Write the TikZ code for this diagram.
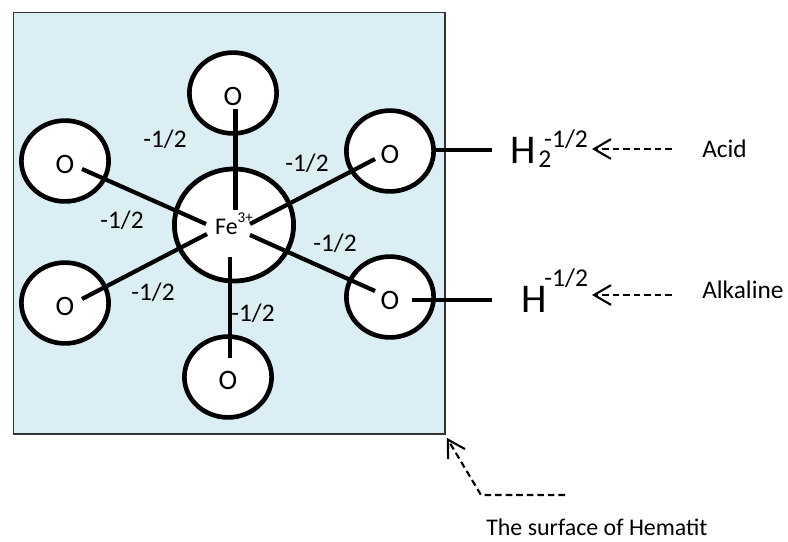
\documentclass[tikz,border=0pt]{standalone}
\usepackage{fontspec}
\setmainfont{Carlito}
\usetikzlibrary{arrows.meta,calc,shapes.geometric}
\definecolor{surfblue}{HTML}{DAEEF3}
\tikzset{
  bond/.style={line width=3pt},
  hint/.style={-{Straight Barb[length=12pt,width=14pt]}, line width=1.5pt, dash pattern=on 4.7pt off 2.8pt},
  oxy/.style={ellipse, draw, line width=3.3pt, fill=white, inner sep=0pt, minimum width=2.18cm, minimum height=2.02cm, font=\fontsize{20}{22}\selectfont, text height=18pt, text depth=0pt},
  charge/.style={inner sep=0pt, font=\fontsize{18}{20}\selectfont},
  ion/.style={inner sep=0pt, anchor=base west, font=\fontsize{29}{31}\selectfont}
}
\newcommand{\smalltxt}[1]{{\fontsize{18.2}{20}\selectfont #1}}

\begin{document}
\begin{tikzpicture}[x=0.025cm, y=-0.025cm]
    \useasboundingbox (0,0) rectangle (788,541);
    \node[draw=black!80, line width=1.1pt, fill=surfblue, minimum width=10.79cm, minimum height=10.54cm, inner sep=0pt] (surf) at (229.2,223.2) {};
    \node[oxy] (ot) at (233,93) {O};
    \node[oxy] (ort) at (390,151) {O};
    \node[oxy] (olt) at (65,161) {O};
    \node[oxy] (olb) at (65,303) {O};
    \node[oxy] (ob) at (228,377) {O};
    \node[oxy] (orb) at (390,297) {O};
    \node[ellipse, draw, line width=3.4pt, fill=white, inner sep=0pt, minimum width=2.98cm, minimum height=2.8cm, text height=12.8pt, text depth=0pt, font=\fontsize{17}{19}\selectfont] (fe) at (234,225) {Fe\raisebox{8.5pt}{\fontsize{10.7}{12}\selectfont 3+}};
    \draw[bond] ($(fe)+(1.5,-15)$) -- ($(ot)+(2.5,16)$);
    \draw[bond] ($(fe)+(-28,-1)$) -- ($(olt)+(17,8)$);
    \draw[bond] ($(fe)+(16,-1)$) -- ($(ort)+(-15,8)$);
    \draw[bond] ($(fe)+(16,10)$) -- ($(orb)+(-15,-6)$);
    \draw[bond] ($(fe)+(-27,9)$) -- ($(olb)+(17,-4)$);
    \draw[bond] ($(fe)+(-4,32)$) -- ($(ob)+(2,-19)$);
    \node[charge] (qa) at (165,139) {-1/2};
    \node[charge] (qb) at (307,163) {-1/2};
    \node[charge] (qc) at (122,220) {-1/2};
    \node[charge] (qd) at (335,243) {-1/2};
    \node[charge] (qe) at (153,292) {-1/2};
    \node[charge] (qf) at (253,313) {-1/2};
    \node[ion] (ha) at (510.5,163) {H\rlap{\hspace{1.5pt}\raisebox{-3.5pt}{\smalltxt{2}}}\raisebox{10.7pt}{\hspace{5.7pt}\smalltxt{-1/2}}};
    \node[ion] (hb) at (521.5,312) {H\raisebox{17.8pt}{\hspace{-2pt}\smalltxt{-1/2}}};
    \coordinate (ea) at (492,150);
    \coordinate (eb) at (492,300);
    \draw[bond] (ort.east |- ea) -- (ea);
    \draw[bond] ($(orb)+(22,3)$) -- (eb);
    \node[charge, anchor=west] (acid) at (702,149) {Acid};
    \node[charge, anchor=west] (alk) at (702,290) {Alkaline};
    \coordinate (ta) at (592,149);
    \coordinate (tb) at (592,295);
    \draw[hint, shorten <=0.75cm] (acid.west) -- (ta);
    \draw[hint, shorten <=0.75cm] (alk.west |- tb) -- (tb);
    \node[charge, anchor=base west, font=\fontsize{17}{20}\selectfont] (hem) at (486,535) {The surface of Hematit};
    \coordinate (sa) at (565,495);
    \coordinate (sb) at (481,495);
    \draw[hint] (sa) -- (sb) -- ($(surf.south east)+(1,3)$);
  \end{tikzpicture}
\end{document}
